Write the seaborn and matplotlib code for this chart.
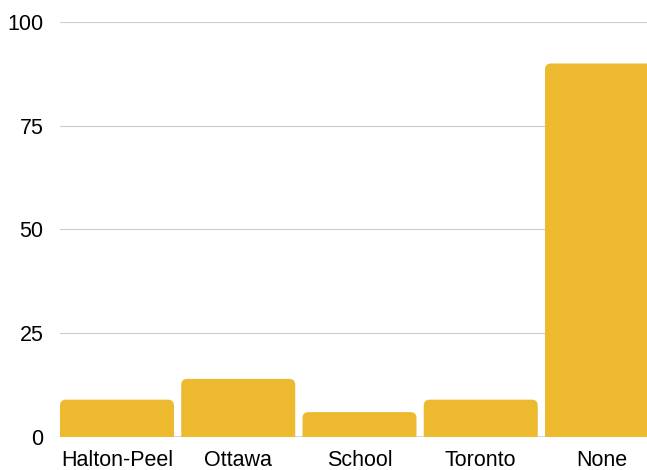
import matplotlib
matplotlib.use("Agg")
import matplotlib.pyplot as plt
import seaborn as sns
import pandas as pd
from matplotlib.path import Path
from matplotlib.patches import PathPatch

categories = ["Halton-Peel", "Ottawa", "School", "Toronto", "None"]
values = [9, 14, 6, 9, 90]
yticks = [0, 25, 50, 75, 100]

df = pd.DataFrame({"cat": categories, "val": values})

sns.set_theme(style="white")
plt.rcParams["font.family"] = ["Liberation Sans", "DejaVu Sans"]

fig = plt.figure(figsize=(6.47, 4.70), dpi=100)
ax = fig.add_axes([60 / 647, 33 / 470, 1 - 60 / 647, (437 - 22) / 470])

color = "#EDB92E"
width = 0.94
sns.barplot(data=df, x="cat", y="val", color=color, saturation=1, width=width, ax=ax, zorder=3)

ax.set_xlim(-width / 2, (647 - 117) / 121.25)
ax.set_ylim(0, 100)

# replace rectangles with top-rounded shapes
rx, ry = 0.05, 1.45
for p in list(ax.patches):
    x0, y0 = p.get_x(), p.get_y()
    w, h = p.get_width(), p.get_height()
    x1, y1 = x0 + w, y0 + h
    verts = [(x0, y0), (x0, y1 - ry), (x0, y1), (x0 + rx, y1),
             (x1 - rx, y1), (x1, y1), (x1, y1 - ry), (x1, y0), (x0, y0)]
    codes = [Path.MOVETO, Path.LINETO, Path.CURVE3, Path.CURVE3,
             Path.LINETO, Path.CURVE3, Path.CURVE3, Path.LINETO, Path.CLOSEPOLY]
    patch = PathPatch(Path(verts, codes), facecolor=color, edgecolor="none", zorder=3)
    p.remove()
    ax.add_patch(patch)

ax.set_yticks(yticks)
ax.yaxis.grid(True, color="#cccccc", linewidth=0.8, zorder=0)
ax.axhline(0, color="#333333", linewidth=1, zorder=2)
for s in ax.spines.values():
    s.set_visible(False)
ax.set_xlabel("")
ax.set_ylabel("")
ax.tick_params(axis="both", length=0, labelsize=15.5, colors="#000000")
ax.tick_params(axis="y", pad=12)
ax.tick_params(axis="x", pad=9)

fig.savefig("out.png", dpi=100)
